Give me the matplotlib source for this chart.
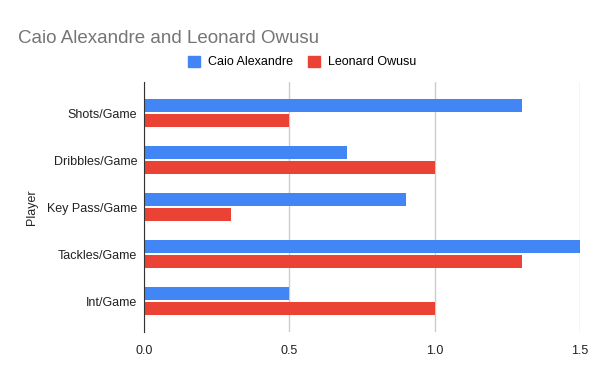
import numpy as np
import matplotlib.pyplot as plt
from matplotlib.patches import Patch

categories = ['Shots/Game', 'Dribbles/Game', 'Key Pass/Game', 'Tackles/Game', 'Int/Game']
caio = [1.3, 0.7, 0.9, 1.5, 0.5]
leonard = [0.5, 1.0, 0.3, 1.3, 1.0]
x_ticks = [0.0, 0.5, 1.0, 1.5]

plt.rcParams['font.family'] = ['Liberation Sans', 'DejaVu Sans']

blue = '#4285f4'
red = '#ea4335'

fig = plt.figure(figsize=(6, 3.71), dpi=100)
ax = fig.add_axes([0.24, 0.105, 0.7267, 0.674])

y = np.arange(len(categories))
ax.barh(y - 0.16, caio, height=0.275, color=blue, zorder=3)
ax.barh(y + 0.16, leonard, height=0.275, color=red, zorder=3)

ax.set_ylim(4.66, -0.66)
ax.set_xlim(0, 1.5)
ax.set_yticks(y)
ax.set_yticklabels(categories, fontsize=9, color='#222222')
ax.set_xticks(x_ticks)
ax.set_xticklabels([f'{v:.1f}' for v in x_ticks], fontsize=9, color='#222222')
ax.tick_params(length=0, pad=5)
ax.tick_params(axis='x', pad=9)

ax.grid(axis='x', color='#cccccc', lw=1, zorder=0)
for s in ['top', 'right', 'bottom']:
    ax.spines[s].set_visible(False)
ax.spines['left'].set_color('#333333')
ax.spines['left'].set_zorder(4)

ax.set_ylabel('Player', fontsize=9, color='#222222', labelpad=6)

fig.text(0.03, 0.897, 'Caio Alexandre and Leonard Owusu', fontsize=13.5,
         color='#757575', va='center')

handles = [Patch(color=blue, label='Caio Alexandre'),
           Patch(color=red, label='Leonard Owusu')]
fig.legend(handles=handles, loc='center', bbox_to_anchor=(0.503, 0.833), ncol=2,
           frameon=False, fontsize=9, handlelength=1.0, handleheight=1.0,
           handletextpad=0.6, columnspacing=1.2)

fig.savefig('out.png', dpi=100, facecolor='white')
